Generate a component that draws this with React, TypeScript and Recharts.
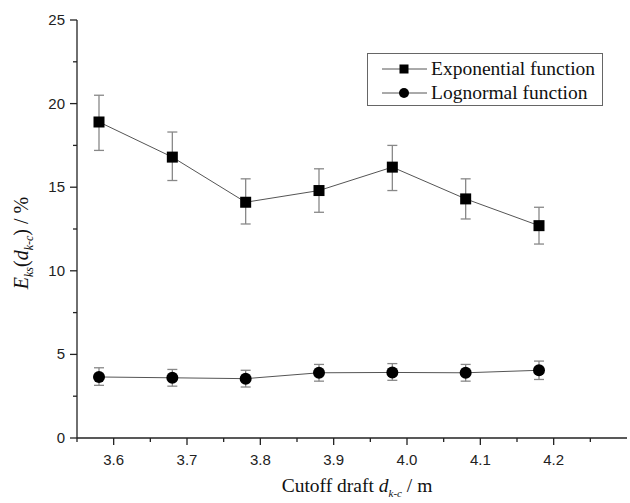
import { LineChart, Line, XAxis, YAxis, ErrorBar } from 'recharts';

const drafts = [3.58, 3.68, 3.78, 3.88, 3.98, 4.08, 4.18];
const expMean = [18.9, 16.8, 14.1, 14.8, 16.2, 14.3, 12.7];
const expLow = [17.2, 15.4, 12.8, 13.5, 14.8, 13.1, 11.6];
const expHigh = [20.5, 18.3, 15.5, 16.1, 17.5, 15.5, 13.8];
const logMean = [3.65, 3.6, 3.55, 3.9, 3.92, 3.9, 4.05];
const logLow = [3.15, 3.1, 3.05, 3.4, 3.45, 3.4, 3.5];
const logHigh = [4.2, 4.1, 4.05, 4.4, 4.45, 4.4, 4.6];

const xTicks = [3.55, 3.6, 3.65, 3.7, 3.75, 3.8, 3.85, 3.9, 3.95, 4.0, 4.05, 4.1, 4.15, 4.2, 4.25];
const yTicks = [0, 2.5, 5, 7.5, 10, 12.5, 15, 17.5, 20, 22.5, 25];

const data = drafts.map((d, i) => ({
  d,
  exp: expMean[i],
  expErr: [expMean[i] - expLow[i], expHigh[i] - expMean[i]],
  log: logMean[i],
  logErr: [logMean[i] - logLow[i], logHigh[i] - logMean[i]],
}));

const AXIS = '#222';
const LINE = '#555';
const ERR = '#888';
const SANS = 'Liberation Sans, Arial, sans-serif';
const SERIF = 'Liberation Serif, Times New Roman, serif';

const isMajorX = (v: number) => Math.abs(Math.round(v * 10) - v * 10) < 1e-6;

const XTick = (props: any) => {
  const { x, y, payload } = props;
  const major = isMajorX(payload.value);
  const showLabel = major && payload.value > 3.57 && payload.value < 4.22;
  return (
    <g>
      <line x1={x} y1={y} x2={x} y2={y + (major ? 7 : 4)} stroke={AXIS} strokeWidth={1.3} />
      {showLabel && (
        <text x={x} y={y + 27} textAnchor="middle" fontSize={15} fill={AXIS} fontFamily={SANS}>
          {payload.value.toFixed(1)}
        </text>
      )}
    </g>
  );
};

const YTick = (props: any) => {
  const { x, y, payload } = props;
  const major = payload.value % 5 === 0;
  return (
    <g>
      <line x1={x} y1={y} x2={x - (major ? 7 : 4)} y2={y} stroke={AXIS} strokeWidth={1.3} />
      {major && (
        <text x={x - 12} y={y + 5} textAnchor="end" fontSize={15} fill={AXIS} fontFamily={SANS}>
          {payload.value}
        </text>
      )}
    </g>
  );
};

const RTick = (props: any) => {
  const { x, y, payload } = props;
  const major = payload.value % 5 === 0;
  return <line x1={x} y1={y} x2={x + (major ? 7 : 4)} y2={y} stroke={AXIS} strokeWidth={1.3} />;
};

const Square = (props: any) => {
  const { cx, cy } = props;
  if (cx == null || cy == null) return null;
  return <rect x={cx - 5.5} y={cy - 5.5} width={11} height={11} fill="#000" />;
};

const Dot = (props: any) => {
  const { cx, cy } = props;
  if (cx == null || cy == null) return null;
  return <circle cx={cx} cy={cy} r={6} fill="#000" />;
};

const LegendBox = () => (
  <div
    style={{
      position: 'absolute',
      left: 367,
      top: 53,
      width: 236,
      height: 53,
      border: '1px solid #666',
      background: '#fff',
      boxSizing: 'border-box',
      fontFamily: SERIF,
      fontSize: 19.5,
      color: '#111',
      padding: '3px 0 0 14px',
    }}
  >
    {[
      { name: 'Exponential function', sq: true },
      { name: 'Lognormal function', sq: false },
    ].map((e) => (
      <div key={e.name} style={{ display: 'flex', alignItems: 'center', height: 24, whiteSpace: 'nowrap' }}>
        <svg width={46} height={14} style={{ flex: 'none' }}>
          <line x1={0} y1={7} x2={45} y2={7} stroke={LINE} strokeWidth={1} />
          {e.sq ? <rect x={17.5} y={2.5} width={9} height={9} fill="#000" /> : <circle cx={22} cy={7} r={5} fill="#000" />}
        </svg>
        <span style={{ marginLeft: 3 }}>{e.name}</span>
      </div>
    ))}
  </div>
);

export default function App() {
  return (
    <div style={{ position: 'absolute', left: 0, top: 0, width: 630, height: 503, background: '#fff', overflow: 'hidden' }}>
      <LineChart width={630} height={503} data={data} margin={{ top: 20, right: 3, left: 0, bottom: 0 }}>
        <XAxis
          dataKey="d"
          type="number"
          domain={[3.55, 4.3]}
          ticks={xTicks}
          allowDataOverflow
          interval={0}
          height={65}
          tickSize={0}
          tickMargin={0}
          tickLine={false}
          axisLine={{ stroke: AXIS, strokeWidth: 1.3 }}
          tick={<XTick />}
          label={{
            content: () => (
              <text x={357} y={492} textAnchor="middle" fontFamily={SERIF} fontSize={19.5} fill="#111">
                Cutoff draft{' '}
                <tspan fontStyle="italic">d</tspan>
                <tspan fontStyle="italic" fontSize={11} dy={5}>k-c</tspan>
                <tspan dy={-5}> / m</tspan>
              </text>
            ),
          }}
        />
        <XAxis
          xAxisId="top"
          dataKey="d"
          type="number"
          orientation="top"
          domain={[3.55, 4.3]}
          height={0}
          tick={false}
          tickLine={false}
          axisLine={{ stroke: AXIS, strokeWidth: 1.3 }}
        />
        <YAxis
          type="number"
          domain={[0, 25]}
          ticks={yTicks}
          interval={0}
          width={77}
          tickSize={0}
          tickMargin={0}
          tickLine={false}
          axisLine={{ stroke: AXIS, strokeWidth: 1.3 }}
          tick={<YTick />}
          label={{
            content: () => (
              <text
                x={0}
                y={0}
                transform="translate(28,243) rotate(-90)"
                textAnchor="middle"
                fontFamily={SERIF}
                fontSize={20}
                fill="#111"
              >
                <tspan fontStyle="italic">E</tspan>
                <tspan fontStyle="italic" fontSize={12} dy={5}>ks</tspan>
                <tspan dy={-5}>(</tspan>
                <tspan fontStyle="italic">d</tspan>
                <tspan fontStyle="italic" fontSize={12} dy={5}>k-c</tspan>
                <tspan dy={-5}>) / %</tspan>
              </text>
            ),
          }}
        />
        <YAxis
          yAxisId="right"
          orientation="right"
          type="number"
          domain={[0, 25]}
          ticks={yTicks}
          interval={0}
          width={0}
          tickSize={0}
          tickMargin={0}
          tickLine={false}
          axisLine={{ stroke: AXIS, strokeWidth: 1.3 }}
          tick={<RTick />}
        />
        <Line
          dataKey="exp"
          name="Exponential function"
          stroke={LINE}
          strokeWidth={1}
          dot={<Square />}
          activeDot={false}
          isAnimationActive={false}
        >
          <ErrorBar dataKey="expErr" width={5} stroke={ERR} strokeWidth={1.3} direction="y" />
        </Line>
        <Line
          dataKey="log"
          name="Lognormal function"
          stroke={LINE}
          strokeWidth={1}
          dot={<Dot />}
          activeDot={false}
          isAnimationActive={false}
        >
          <ErrorBar dataKey="logErr" width={5} stroke={ERR} strokeWidth={1.3} direction="y" />
        </Line>
      </LineChart>
      <LegendBox />
    </div>
  );
}
